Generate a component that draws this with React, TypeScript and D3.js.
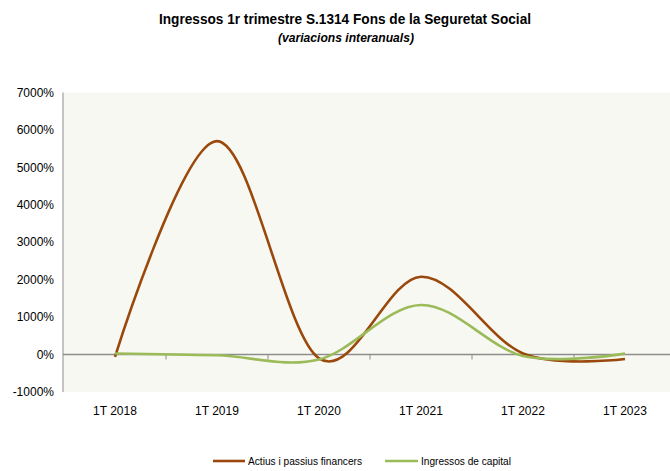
import { useEffect } from "react";
import { scaleBand, scaleLinear, line, curveCardinal } from "d3";

const categories = ["1T 2018", "1T 2019", "1T 2020", "1T 2021", "1T 2022", "1T 2023"];
const actius = [-60, 5700, -100, 2080, 30, -120];
const capital = [30, -20, -130, 1325, -40, 25];
const yTicks = [-1000, 0, 1000, 2000, 3000, 4000, 5000, 6000, 7000];

const width = 670;
const height = 471;
const plotLeft = 63;
const plotTop = 92.5;
const plotBottom = 392;

const brown = "#9a480b";
const green = "#9bbb59";
const font = "'Liberation Sans Narrow', 'Liberation Sans', Arial, sans-serif";

function App() {
  useEffect(() => {
    document.body.style.margin = "0";
  }, []);

  const x = scaleBand().domain(categories).range([64, 64 + 6 * 102]);
  const y = scaleLinear().domain([-1000, 7000]).range([plotBottom, plotTop]);

  const makeLine = line<number>()
    .x((_, i) => (x(categories[i]) as number) + x.bandwidth() / 2)
    .y((d) => y(d))
    .curve(curveCardinal.tension(0));

  const y0 = y(0);

  return (
    <svg width={width} height={height} style={{ display: "block" }} fontFamily={font}>
      <rect x={0} y={0} width={width} height={height} fill="#ffffff" />
      {/* plot area */}
      <rect x={plotLeft} y={plotTop} width={width - plotLeft} height={plotBottom - plotTop} fill="#f8f8f3" />

      {/* title */}
      <text x={159} y={24} fontSize={15.5} fontWeight="bold" fill="#000" textLength={372} lengthAdjust="spacingAndGlyphs">
        Ingressos 1r trimestre S.1314 Fons de la Seguretat Social
      </text>
      <text x={278} y={42} fontSize={12} fontWeight="bold" fontStyle="italic" fill="#000" textLength={136} lengthAdjust="spacingAndGlyphs">
        (variacions interanuals)
      </text>

      {/* y axis */}
      <line x1={plotLeft} x2={plotLeft} y1={plotTop} y2={plotBottom} stroke="#8c8c8c" strokeWidth={1} />
      {yTicks.map((t) => (
        <text key={t} x={54} y={y(t)} dy="0.35em" textAnchor="end" fontSize={12} fill="#000">
          {t}%
        </text>
      ))}

      {/* x axis at zero */}
      <line x1={plotLeft} x2={width} y1={y0} y2={y0} stroke="#8c8c8c" strokeWidth={1.5} />
      {categories.map((c) => (
        <line
          key={"t" + c}
          x1={(x(c) as number) + x.bandwidth()}
          x2={(x(c) as number) + x.bandwidth()}
          y1={y0}
          y2={y0 + 5}
          stroke="#8c8c8c"
        />
      ))}
      {categories.map((c) => (
        <text
          key={c}
          x={(x(c) as number) + x.bandwidth() / 2}
          y={415}
          textAnchor="middle"
          fontSize={12}
          fill="#000"
        >
          {c}
        </text>
      ))}

      {/* series */}
      <path d={makeLine(actius) || ""} fill="none" stroke={brown} strokeWidth={2.6} />
      <path d={makeLine(capital) || ""} fill="none" stroke={green} strokeWidth={2.6} />

      {/* legend */}
      <line x1={213} x2={245} y1={461} y2={461} stroke={brown} strokeWidth={2.6} />
      <text x={248} y={461} dy="0.35em" fontSize={11} fill="#000" textLength={114} lengthAdjust="spacingAndGlyphs">
        Actius i passius financers
      </text>
      <line x1={385} x2={418} y1={461} y2={461} stroke={green} strokeWidth={2.6} />
      <text x={421} y={461} dy="0.35em" fontSize={11} fill="#000" textLength={90} lengthAdjust="spacingAndGlyphs">
        Ingressos de capital
      </text>
    </svg>
  );
}

export default App;
